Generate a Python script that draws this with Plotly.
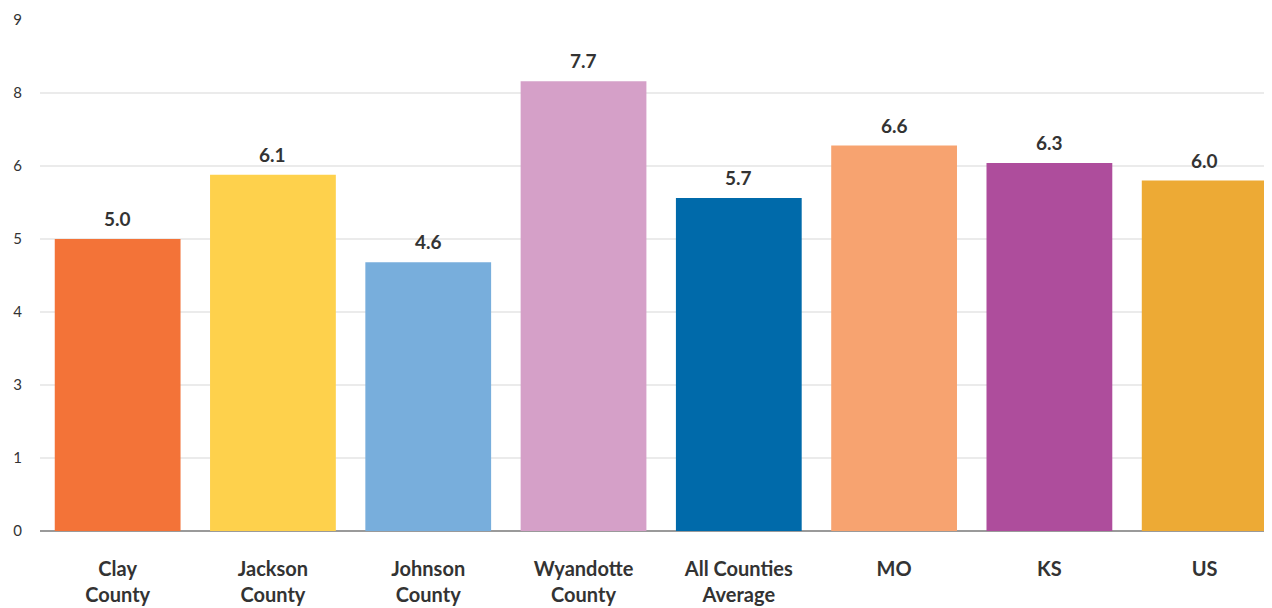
import plotly.graph_objects as go

categories = ["Clay<br>County", "Jackson<br>County", "Johnson<br>County", "Wyandotte<br>County",
              "All Counties<br>Average", "MO", "KS", "US"]
values = [5.0, 6.1, 4.6, 7.7, 5.7, 6.6, 6.3, 6.0]
colors = ["#F37338", "#FED14C", "#78AEDC", "#D5A0C8", "#006AAA", "#F7A370", "#AE4D9C", "#EDAA35"]

y_step = 1.25
y_tick_labels = ["0", "1", "3", "4", "5", "6", "8", "9"]
y_tick_vals = [i * y_step for i in range(len(y_tick_labels))]

fig = go.Figure(go.Bar(
    x=categories, y=values,
    marker=dict(color=colors, line=dict(width=0)),
    hoverinfo="skip",
))

for c, v in zip(categories, values):
    fig.add_annotation(
        x=c, y=v, text=f"{v:.1f}", showarrow=False,
        yanchor="bottom", yshift=7,
        font=dict(family="Lato", size=19, color="#333333", weight="bold"),
    )

fig.update_layout(
    width=1272, height=608, autosize=False,
    margin=dict(l=32, r=0, t=12, b=85),
    paper_bgcolor="white", plot_bgcolor="white",
    bargap=0.19, showlegend=False,
    font=dict(family="Lato", color="#333333"),
)
fig.update_xaxes(
    range=[-0.5, 7.485], showgrid=False, automargin=False,
    tickfont=dict(family="Lato", size=20, color="#333333", weight="bold"),
    ticks="", ticklabelstandoff=24,
    showline=False, zeroline=False,
)
fig.update_yaxes(
    range=[0, y_tick_vals[-1]], tickvals=y_tick_vals, ticktext=y_tick_labels,
    showgrid=True, gridcolor="#EBEBEB", gridwidth=2, automargin=False,
    zeroline=True, zerolinecolor="#9A9A9A", zerolinewidth=2,
    tickfont=dict(family="Lato", size=15, color="#333333"),
    ticks="", ticklabelstandoff=17,
)

fig.write_html("out.html")
